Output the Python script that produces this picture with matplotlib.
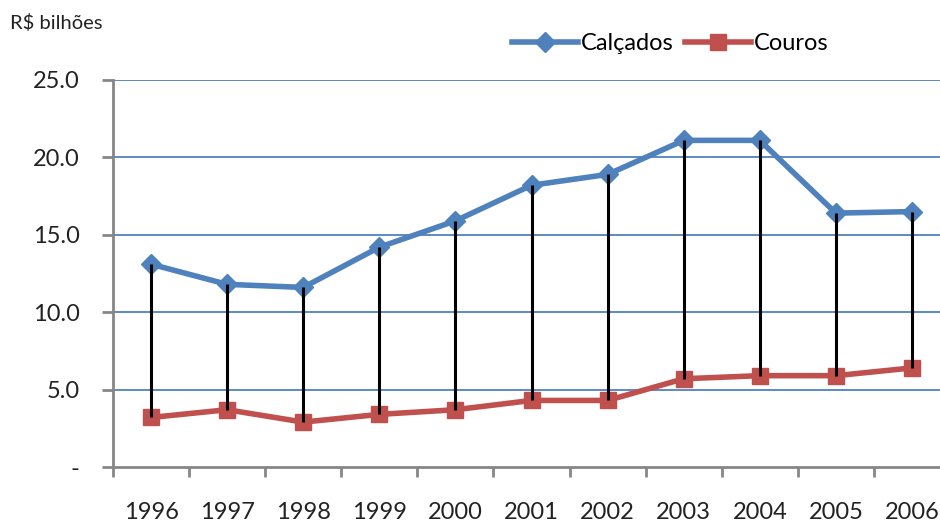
import matplotlib.pyplot as plt
from matplotlib.lines import Line2D

# dados (R$ bilhões)
anos = ['1996', '1997', '1998', '1999', '2000', '2001', '2002', '2003', '2004', '2005', '2006']
calcados = [13.1, 11.8, 11.6, 14.2, 15.9, 18.2, 18.9, 21.1, 21.1, 16.4, 16.5]
couros = [3.2, 3.7, 2.9, 3.4, 3.7, 4.3, 4.3, 5.7, 5.9, 5.9, 6.4]
yticks = [0, 5, 10, 15, 20, 25]
ylabels = ['-', '5.0', '10.0', '15.0', '20.0', '25.0']

azul = '#4F81BD'
vermelho = '#C0504D'
cinza = '#868686'

plt.rcParams['font.family'] = ['Lato', 'DejaVu Sans']

fig = plt.figure(figsize=(9.4, 5.23), dpi=100)
ax = fig.add_axes([113 / 940, 1 - 467 / 523, 837 / 940, 387 / 523])

x = list(range(len(anos)))

for v in yticks[1:]:
    ax.axhline(v, color=azul, lw=1.3, zorder=1)

ax.plot(x, calcados, color=azul, lw=4, marker='D', ms=10, zorder=3)
ax.plot(x, couros, color=vermelho, lw=4, marker='s', ms=11, zorder=3)
# linhas de queda entre as duas séries
ax.vlines(x, couros, calcados, color='black', lw=2.2, zorder=4)

ax.set_xlim(-0.5, len(anos) - 0.5)
ax.set_ylim(0, 25)
ax.set_yticks(yticks)
ax.set_yticklabels(ylabels, fontsize=17, color='#222222')
ax.set_xticks([i - 0.5 for i in range(len(anos) + 1)])
ax.set_xticklabels([])
ax.set_xticks(x, minor=True)
ax.set_xticklabels(anos, minor=True, fontsize=17, color='#222222')
ax.tick_params(axis='x', which='minor', length=0, pad=25)
ax.tick_params(axis='x', which='major', length=7, width=2, color=cinza)
ax.tick_params(axis='y', length=8, width=2, color=cinza, pad=16)

for s in ['top', 'right']:
    ax.spines[s].set_visible(False)
for s in ['left', 'bottom']:
    ax.spines[s].set_color(cinza)
    ax.spines[s].set_linewidth(2)

fig.text(10 / 940, 1 - 23 / 523, 'R$ bilhões', fontsize=14.5, va='center', ha='left', color='#222222')

handles = [Line2D([], [], color=azul, lw=4, marker='D', ms=10),
           Line2D([], [], color=vermelho, lw=4, marker='s', ms=11)]
fig.legend(handles, ['Calçados', 'Couros'], loc='center', bbox_to_anchor=(670 / 940, 1 - 44 / 523),
           ncol=2, frameon=False, fontsize=17, handlelength=2.8, handletextpad=0.1, columnspacing=0.5)

fig.savefig('out.png', dpi=100, facecolor='white')
